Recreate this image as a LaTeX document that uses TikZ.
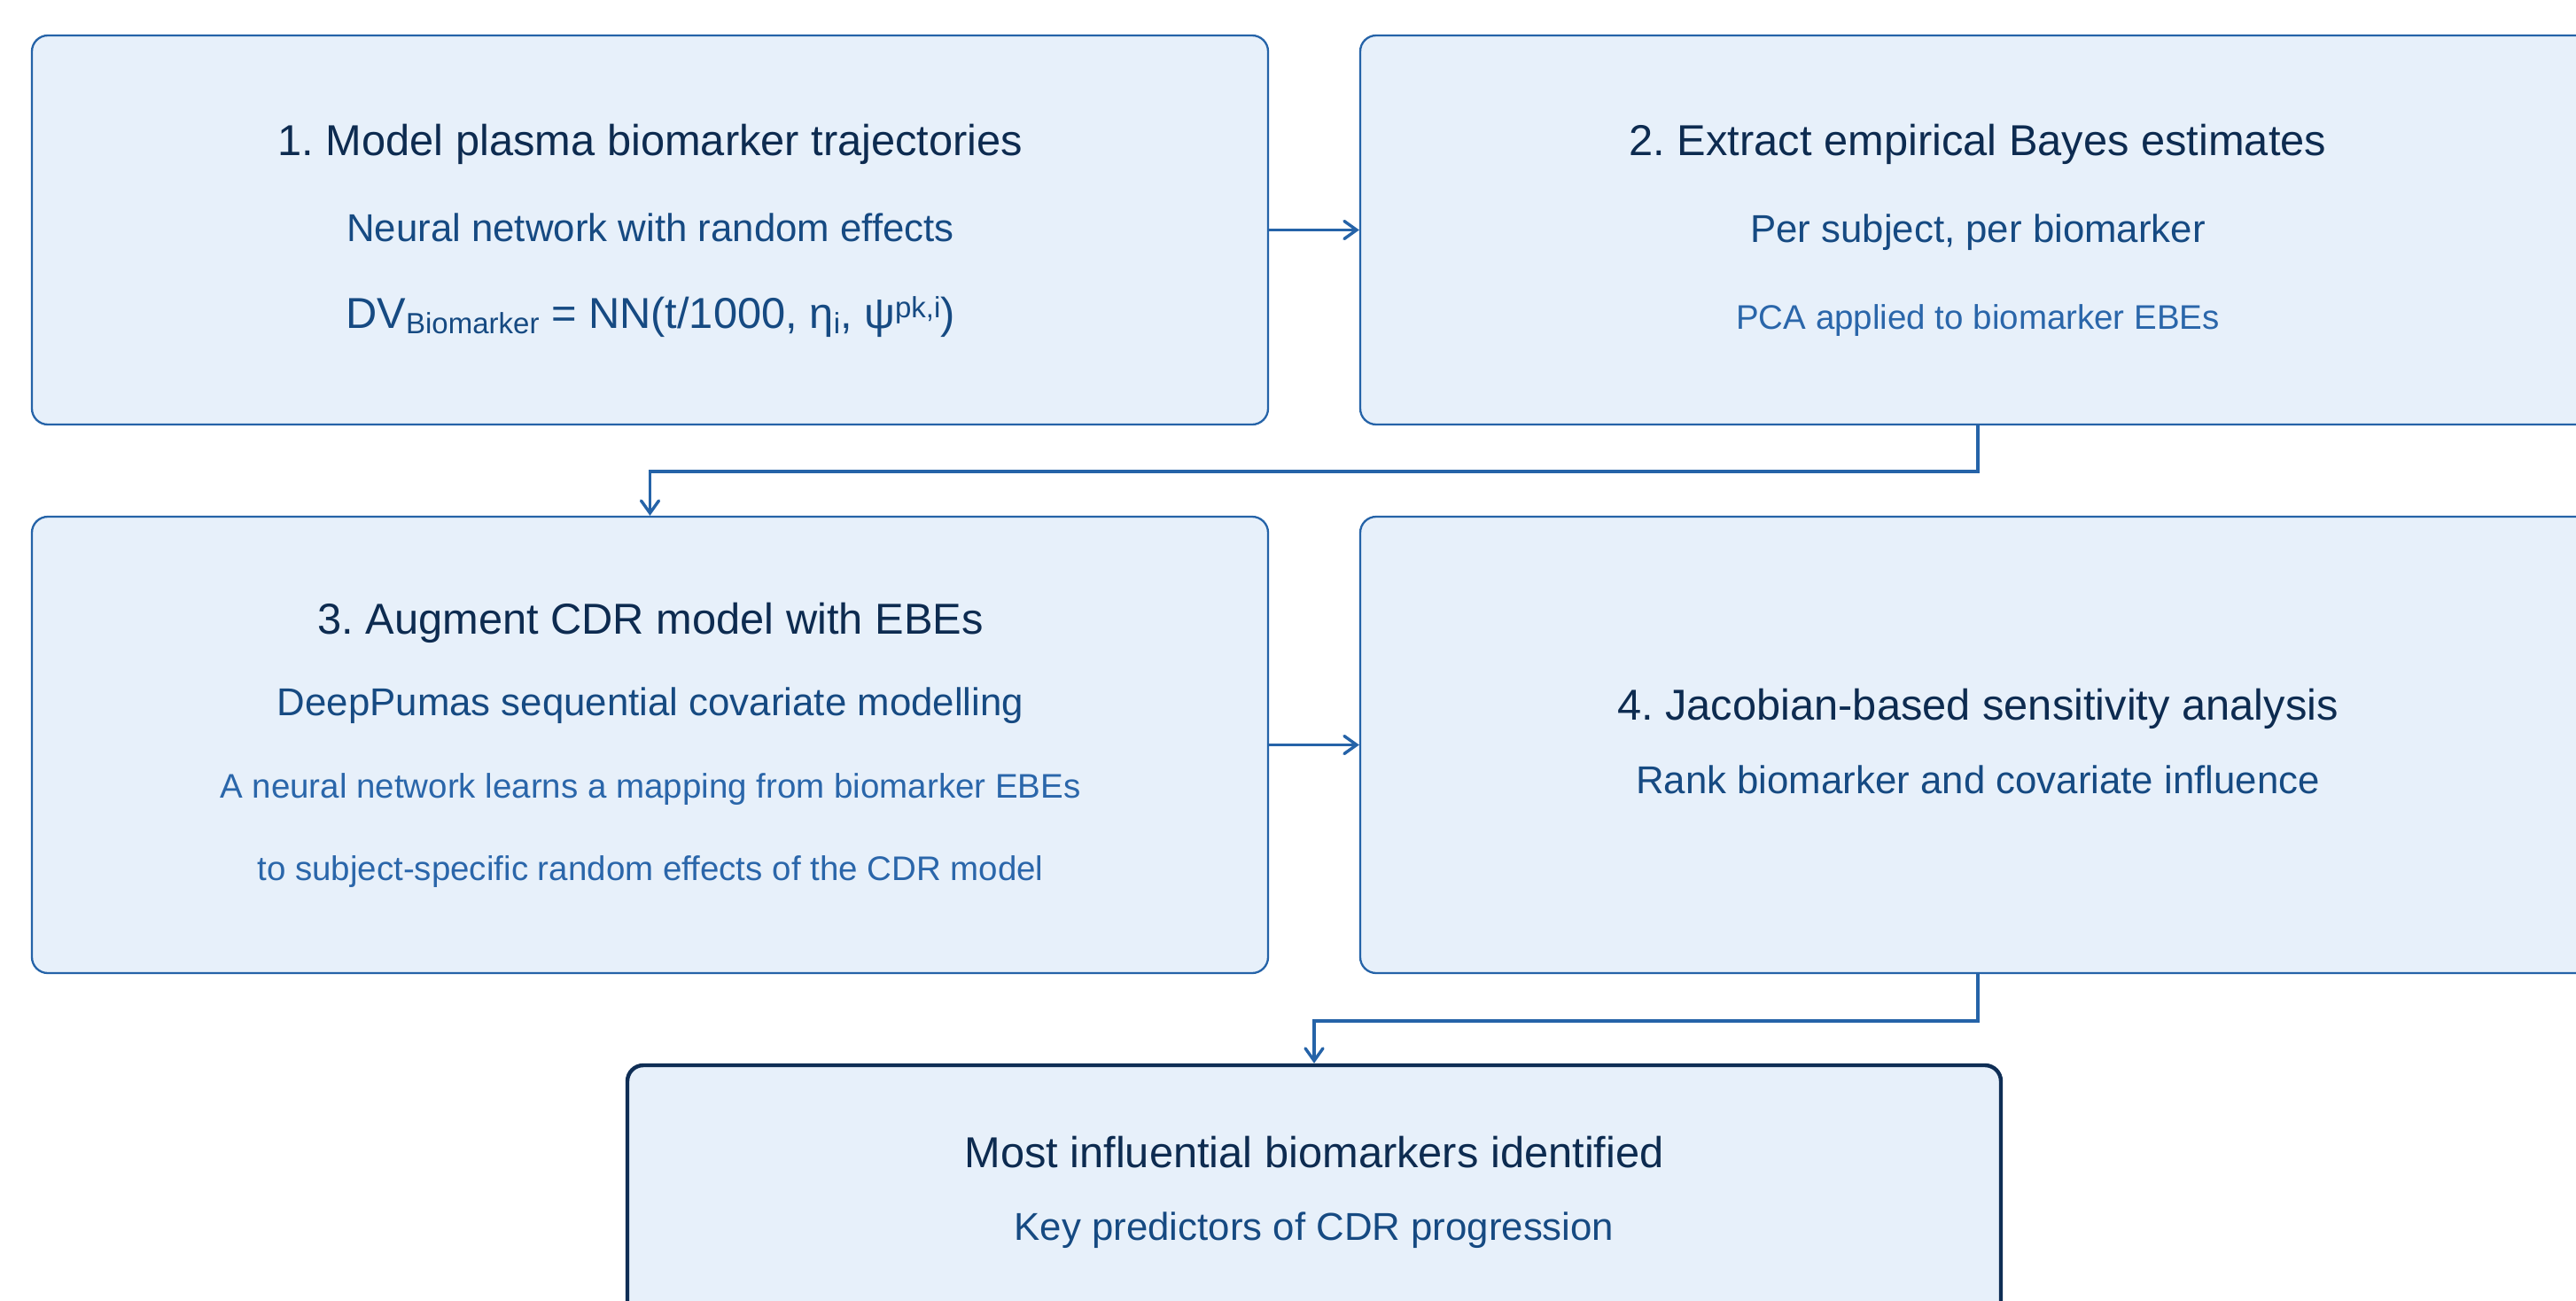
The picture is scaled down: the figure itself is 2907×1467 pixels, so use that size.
\documentclass[tikz,border=0pt]{standalone}
\usepackage{fontspec}
\setmainfont{Liberation Sans}
\usetikzlibrary{arrows.meta}
\frenchspacing
\definecolor{boxfill}{HTML}{E7F0FA}
\definecolor{boxline}{HTML}{2563A8}
\definecolor{titlecol}{HTML}{0D2B50}
\definecolor{subcol}{HTML}{164A82}
\definecolor{detcol}{HTML}{2A66AA}
\definecolor{finalline}{HTML}{0F2E55}
\newcommand{\fsub}[1]{\raisebox{-3.3pt}{\fontsize{16.5pt}{18pt}\selectfont #1}}
\newcommand{\fsup}[1]{\raisebox{6pt}{\fontsize{16.5pt}{18pt}\selectfont #1}}
\tikzset{
 stepbox/.style={draw=boxline, line width=1.15pt, fill=boxfill, rounded corners=9pt, inner sep=0pt},
 finalbox/.style={stepbox, draw=finalline, line width=2.2pt},
 titletext/.style={anchor=base, inner sep=0pt, text=titlecol, font=\fontsize{24.4pt}{28pt}\selectfont},
 subtext/.style={anchor=base, inner sep=0pt, text=subcol, font=\fontsize{21.9pt}{26pt}\selectfont},
 dettext/.style={anchor=base, inner sep=0pt, text=detcol, font=\fontsize{19.25pt}{23pt}\selectfont},
 formtext/.style={anchor=base, inner sep=0pt, text=subcol, font=\fontsize{24.4pt}{28pt}\selectfont},
 flow/.style={draw=boxline, line width=1.7pt, -{Straight Barb[length=7pt,width=10pt,line cap=round]}},
}
\begin{document}
\begin{tikzpicture}[x=0.5pt,y=-0.5pt]
\clip (0,0) rectangle (2907,1467);
\fill[white] (0,0) rectangle (2907,1467);
% boxes
\node[stepbox, minimum width=697.5pt, minimum height=219.5pt] (b1) at (733.5,259.5) {};
\node[stepbox, minimum width=697pt, minimum height=219.5pt] (b2) at (2232,259.5) {};
\node[stepbox, minimum width=697.5pt, minimum height=257.5pt] (b3) at (733.5,840.5) {};
\node[stepbox, minimum width=697pt, minimum height=257.5pt] (b4) at (2232,840.5) {};
\node[finalbox, minimum width=775pt, minimum height=143pt] (b5) at (1483,1345) {};
% connectors
\draw[flow] (b1.east) -- (b2.west);
\draw[flow] (b2.south) -- ++(0,52) -| (b3.north);
\draw[flow] (b3.east) -- (b4.west);
\draw[flow] (b4.south) -- ++(0,53) -| (b5.north);
% texts box 1
\node[titletext] (t1a) at (734,175) {1. Model plasma biomarker trajectories};
\node[subtext] (t1b) at (734,272) {Neural network with random effects};
\node[formtext] (t1c) at (734,370) {DV\fsub{Biomarker} = NN(t/1000, η\fsub{i}, ψ\fsup{pk,i})};
% box 2
\node[titletext] (t2a) at (2232,175) {2. Extract empirical Bayes estimates};
\node[subtext] (t2b) at (2232,273) {Per subject, per biomarker};
\node[dettext] (t2c) at (2232,371) {PCA applied to biomarker EBEs};
% box 3
\node[titletext] (t3a) at (734,715) {3. Augment CDR model with EBEs};
\node[subtext] (t3b) at (734,807) {DeepPumas sequential covariate modelling};
\node[dettext] (t3c) at (734,900) {A neural network learns a mapping from biomarker EBEs};
\node[dettext] (t3d) at (734,993) {to subject-specific random effects of the CDR model};
% box 4
\node[titletext] (t4a) at (2232,812.5) {4. Jacobian-based sensitivity analysis};
\node[subtext] (t4b) at (2232,895.5) {Rank biomarker and covariate influence};
% box 5
\node[titletext] (t5a) at (1483,1317) {Most influential biomarkers identified};
\node[subtext] (t5b) at (1483,1399) {Key predictors of CDR progression};
\end{tikzpicture}
\end{document}
